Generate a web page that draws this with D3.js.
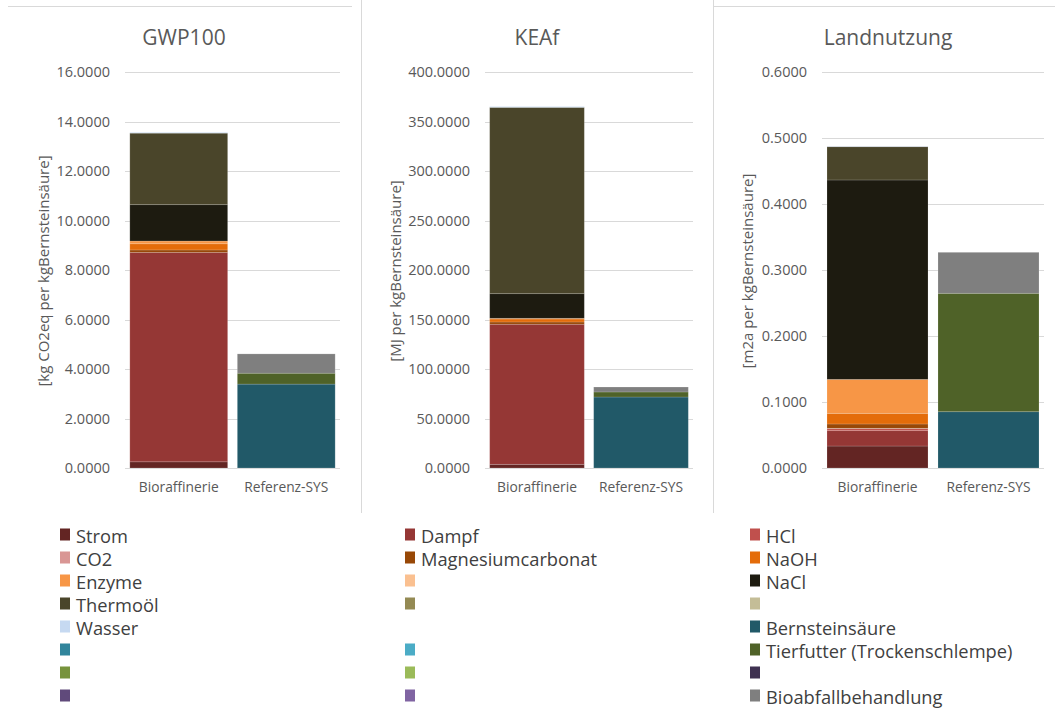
<!DOCTYPE html>
<html>
<head>
<meta charset="utf-8">
<script src="https://cdn.jsdelivr.net/npm/d3@7"></script>
<style>
  html, body { margin: 0; padding: 0; background: #fff; }
  svg { display: block; font-family: "Open Sans", "Noto Sans", sans-serif; }
</style>
</head>
<body>
<svg id="chart" width="1055" height="713"></svg>
<script>
// Categories on the x axis of every panel
const categories = ["Bioraffinerie", "Referenz-SYS"];

// Stack series, bottom to top (legend is filled row by row, three columns)
const seriesNames = [
  "Strom", "Dampf", "HCl",
  "CO2", "Magnesiumcarbonat", "NaOH",
  "Enzyme", "", "NaCl",
  "Thermoöl", "", "",
  "Wasser", "", "Bernsteinsäure",
  "", "", "Tierfutter (Trockenschlempe)",
  "", "", "",
  "", "", "Bioabfallbehandlung"
];
const seriesColors = [
  "#632523", "#953735", "#C0504D",
  "#D99694", "#984807", "#E46C0A",
  "#F79646", "#FAC090", "#1D1B10",
  "#4A452A", "#948A54", "#C4BD97",
  "#C6D9F1", null, "#215968",
  "#31859C", "#4BACC6", "#4F6228",
  "#77933C", "#9BBB59", "#3F3151",
  "#604A7B", "#8064A2", "#7F7F7F"
];

// GWP100 [kg CO2eq per kgBernsteinsäure]
const gwpBio = [0.25, 8.46, 0, 0, 0.10, 0.25, 0.11, 0, 1.47, 2.89, 0, 0, 0.03, 0, 0, 0, 0, 0, 0, 0, 0, 0, 0, 0];
const gwpRef = [0, 0, 0, 0, 0, 0, 0, 0, 0, 0, 0, 0, 0, 0, 3.39, 0, 0, 0.44, 0, 0, 0, 0, 0, 0.78];
const gwpTicks = [0, 2, 4, 6, 8, 10, 12, 14, 16];

// KEAf [MJ per kgBernsteinsäure]
const keaBio = [3.7, 141.5, 0, 0, 2.3, 3.0, 0.7, 0, 24.9, 188.2, 0, 0, 0.8, 0, 0, 0, 0, 0, 0, 0, 0, 0, 0, 0];
const keaRef = [0, 0, 0, 0, 0, 0, 0, 0, 0, 0, 0, 0, 0, 0, 71.7, 0, 0, 5.1, 0, 0, 0, 0, 0, 5.0];
const keaTicks = [0, 50, 100, 150, 200, 250, 300, 350, 400];

// Landnutzung [m2a per kgBernsteinsäure]
const landBio = [0.0333, 0.0233, 0.0030, 0.0005, 0.0066, 0.0161, 0.0515, 0, 0.3021, 0.0504, 0, 0, 0.0006, 0, 0, 0, 0, 0, 0, 0, 0, 0, 0, 0];
const landRef = [0, 0, 0, 0, 0, 0, 0, 0, 0, 0, 0, 0, 0, 0, 0.0853, 0, 0, 0.1794, 0, 0, 0, 0, 0, 0.0621];
const landTicks = [0, 0.1, 0.2, 0.3, 0.4, 0.5, 0.6];

const svg = d3.select("#chart");
const fmt = d3.format(".4f");

// Chart frame lines between the three panels
const frame = svg.append("g").attr("stroke", "#d9d9d9").attr("stroke-width", 1);
frame.append("line").attr("x1", 8).attr("x2", 352).attr("y1", 6.5).attr("y2", 6.5);
frame.append("line").attr("x1", 713).attr("x2", 1055).attr("y1", 6.5).attr("y2", 6.5);
frame.append("line").attr("x1", 361.5).attr("x2", 361.5).attr("y1", 0).attr("y2", 513);
frame.append("line").attr("x1", 713.5).attr("x2", 713.5).attr("y1", 0).attr("y2", 513);

const panels = [
  { title: "GWP100", yTitle: "[kg CO2eq per kgBernsteinsäure]", bio: gwpBio, ref: gwpRef, ticks: gwpTicks,
    x0: 125, x1: 340, titleX: 184, yTitleX: 43 },
  { title: "KEAf", yTitle: "[MJ per kgBernsteinsäure]", bio: keaBio, ref: keaRef, ticks: keaTicks,
    x0: 485, x1: 693, titleX: 537, yTitleX: 395 },
  { title: "Landnutzung", yTitle: "[m2a per kgBernsteinsäure]", bio: landBio, ref: landRef, ticks: landTicks,
    x0: 822, x1: 1044, titleX: 888, yTitleX: 747 }
];

const yTop = 72, yBottom = 468;

panels.forEach(p => {
  const g = svg.append("g");
  const y = d3.scaleLinear().domain([0, d3.max(p.ticks)]).range([yBottom, yTop]);
  const x = d3.scaleBand().domain(categories).range([p.x0, p.x1]).paddingInner(0.09).paddingOuter(0.045);

  // Gridlines
  g.append("g").selectAll("line").data(p.ticks).join("line")
    .attr("x1", p.x0).attr("x2", p.x1)
    .attr("y1", d => Math.round(y(d)) + 0.5).attr("y2", d => Math.round(y(d)) + 0.5)
    .attr("stroke", "#d9d9d9").attr("stroke-width", 1.2);

  // Y axis tick labels
  const yAxis = d3.axisLeft(y).tickValues(p.ticks).tickFormat(fmt).tickSize(0).tickPadding(15);
  const ya = g.append("g").attr("transform", `translate(${p.x0},0)`).call(yAxis);
  ya.select(".domain").remove();
  ya.selectAll("text").attr("fill", "#595959").style("font-size", "14.5px")
    .style("font-family", "'Open Sans', sans-serif");

  // Stacked bars
  const rows = categories.map((c, i) => {
    const vals = i === 0 ? p.bio : p.ref;
    const o = { cat: c };
    seriesNames.forEach((n, k) => { o["s" + k] = vals[k]; });
    return o;
  });
  const keys = seriesNames.map((n, k) => "s" + k);
  const stacked = d3.stack().keys(keys)(rows);
  g.append("g").selectAll("g").data(stacked).join("g")
    .attr("fill", (d, k) => seriesColors[k] || "none")
    .selectAll("rect").data(d => d.filter(s => s[1] - s[0] > 0)).join("rect")
    .attr("x", d => x(d.data.cat))
    .attr("width", x.bandwidth())
    .attr("y", d => y(d[1]))
    .attr("height", d => y(d[0]) - y(d[1]))
    .attr("stroke", "#ffffff").attr("stroke-opacity", 0.2).attr("stroke-width", 0.8);

  // Category labels
  const xAxis = d3.axisBottom(x).tickSize(0).tickPadding(14);
  const xa = g.append("g").attr("transform", `translate(0,${yBottom})`).call(xAxis);
  xa.select(".domain").remove();
  xa.selectAll("text").attr("fill", "#595959").style("font-size", "13.8px")
    .style("font-family", "'Open Sans', sans-serif");

  // Panel title
  g.append("text").attr("x", p.titleX).attr("y", 45).attr("text-anchor", "middle")
    .attr("fill", "#595959").style("font-size", "21px").text(p.title);

  // Y axis title
  g.append("text")
    .attr("transform", `translate(${p.yTitleX},271) rotate(-90)`)
    .attr("text-anchor", "middle").attr("dominant-baseline", "central")
    .attr("fill", "#595959").style("font-size", "15px").text(p.yTitle);
});

// Legend: three columns, filled row by row
const legendCols = [60, 405, 750];
const legend = svg.append("g");
seriesNames.forEach((n, k) => {
  const col = k % 3, row = Math.floor(k / 3);
  const cx = legendCols[col], cy = 535 + row * 23;
  if (seriesColors[k]) {
    legend.append("rect").attr("x", cx).attr("y", cy - 6.5).attr("width", 10).attr("height", 12)
      .attr("fill", seriesColors[k]);
  }
  if (n) {
    legend.append("text").attr("x", cx + 16).attr("y", cy).attr("dominant-baseline", "central")
      .attr("fill", "#404040").style("font-size", "18.3px").text(n);
  }
});
</script>
</body>
</html>
